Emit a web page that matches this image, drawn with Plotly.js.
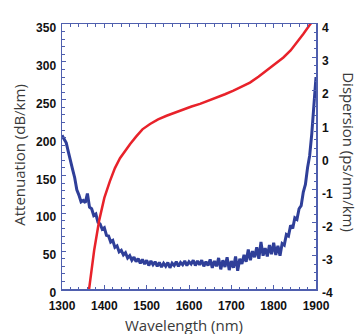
<!DOCTYPE html>
<html>
<head>
<meta charset="utf-8">
<script src="https://cdn.plot.ly/plotly-3.0.1.min.js"></script>
<style>html,body{margin:0;padding:0;background:#fff;}#chart{width:358px;height:334px;}</style>
</head>
<body>
<div id="chart"></div>
<script>
// Attenuation (dB/km) vs wavelength (nm), every 5 nm
var attWavelength = [];
for (var w = 1300; w <= 1900; w += 5) attWavelength.push(w);
var attenuation = [
 203,198,193,181,171,158,147,131,124,115,
 117,114,126,108,106,97,99,88,86,79,
 81,71,70,62,64,55,57,49,51,45,
 48,41,44,38,42,36,40,34,39,33,
 38,31,37,32,36,30,35,29,34,30,
 35,28,34,31,36,30,35,32,37,31,
 36,33,38,31,37,32,38,30,36,31,
 39,28,37,30,41,26,38,29,42,25,
 37,28,43,24,40,33,45,36,52,38,
 50,42,55,40,62,44,54,43,58,46,
 61,45,57,44,60,58,72,70,84,80,
 94,92,106,110,128,138,160,176,205,250,
 280
];
// Dispersion (ps/nm/km) vs wavelength (nm)
var dispWavelength = [1363,1368,1376,1388,1400,1413,1425,1437,1450,1461,1475,1490,1508,1527,1547,1567,1587,1606,1626,1645,1665,1685,1705,1724,1744,1764,1784,1803,1823,1840,1855,1870,1885,1890];
var dispersion =     [-4.1,-3.6,-2.83,-1.92,-1.25,-0.75,-0.35,-0.05,0.2,0.38,0.6,0.82,0.98,1.12,1.23,1.33,1.43,1.51,1.59,1.68,1.78,1.88,1.99,2.1,2.23,2.41,2.6,2.79,2.99,3.2,3.44,3.7,3.97,4.05];

var xTicks = [1300,1400,1500,1600,1700,1800,1900];
var yTicks = [0,50,100,150,200,250,300,350];
var y2Ticks = [-4,-3,-2,-1,0,1,2,3,4];
var y2TickText = ['-4','-3','-2','-1','0','1','2','3','4'];

var axisColor = '#4f5fae';
var tickFont = {family: 'Liberation Sans, Arial, sans-serif', size: 12, color: '#111', weight: 'bold'};
var titleFont = {family: 'Open Sans, sans-serif', size: 15, color: '#3a3a3a', weight: 'normal'};

var traces = [
  {x: attWavelength, y: attenuation, type: 'scatter', mode: 'lines', yaxis: 'y',
   line: {color: '#2f3f99', width: 3}, hoverinfo: 'skip'},
  {x: dispWavelength, y: dispersion, type: 'scatter', mode: 'lines', yaxis: 'y2',
   line: {color: '#e8222a', width: 2.5}, hoverinfo: 'skip'}
];

var layout = {
  width: 358, height: 334,
  margin: {l: 62, r: 42, t: 24, b: 45},
  paper_bgcolor: '#fff', plot_bgcolor: '#fff',
  showlegend: false,
  font: {family: 'Open Sans, sans-serif', size: 12, color: '#3a3a3a'},
  xaxis: {
    range: [1300, 1900], tickvals: xTicks, ticks: 'inside', ticklen: 4, tickwidth: 1,
    tickcolor: axisColor, showline: true, linecolor: axisColor, linewidth: 1.5,
    mirror: 'ticks', showgrid: false, zeroline: false, tickfont: tickFont,
    minor: {dtick: 20, ticks: 'inside', ticklen: 2.5, tickcolor: axisColor, tickwidth: 1, showgrid: false},
    ticklabelstandoff: 5
  },
  yaxis: {
    range: [0, 350], tickvals: yTicks, ticks: 'inside', ticklen: 4, tickwidth: 1,
    tickcolor: axisColor, showline: true, linecolor: axisColor, linewidth: 1.5,
    showgrid: false, zeroline: false, tickfont: tickFont,
    minor: {dtick: 10, ticks: 'inside', ticklen: 2.5, tickcolor: axisColor, tickwidth: 1, showgrid: false},
    ticklabelshift: 4, ticklabelstandoff: 2
  },
  yaxis2: {
    range: [-4, 4], overlaying: 'y', side: 'right', tickvals: y2Ticks, ticktext: y2TickText,
    ticks: 'inside', ticklen: 4, tickwidth: 1,
    tickcolor: axisColor, showline: true, linecolor: axisColor, linewidth: 1.5,
    showgrid: false, zeroline: false, tickfont: tickFont,
    minor: {dtick: 0.25, ticks: 'inside', ticklen: 2.5, tickcolor: axisColor, tickwidth: 1, showgrid: false},
    ticklabelshift: 4, ticklabelstandoff: 2
  },
  annotations: [
    {text: 'Wavelength (nm)', xref: 'paper', yref: 'paper', x: 0.48, y: -0.135,
     showarrow: false, font: titleFont, xanchor: 'center', yanchor: 'middle'},
    {text: 'Attenuation (dB/km)', xref: 'paper', yref: 'paper', x: -0.167, y: 0.505,
     showarrow: false, font: titleFont, textangle: -90, xanchor: 'center', yanchor: 'middle'},
    {text: 'Dispersion (ps/nm/km)', xref: 'paper', yref: 'paper', x: 1.13, y: 0.516,
     showarrow: false, font: titleFont, textangle: 90, xanchor: 'center', yanchor: 'middle'}
  ]
};

Plotly.newPlot('chart', traces, layout, {staticPlot: true, displayModeBar: false});
</script>
</body>
</html>
